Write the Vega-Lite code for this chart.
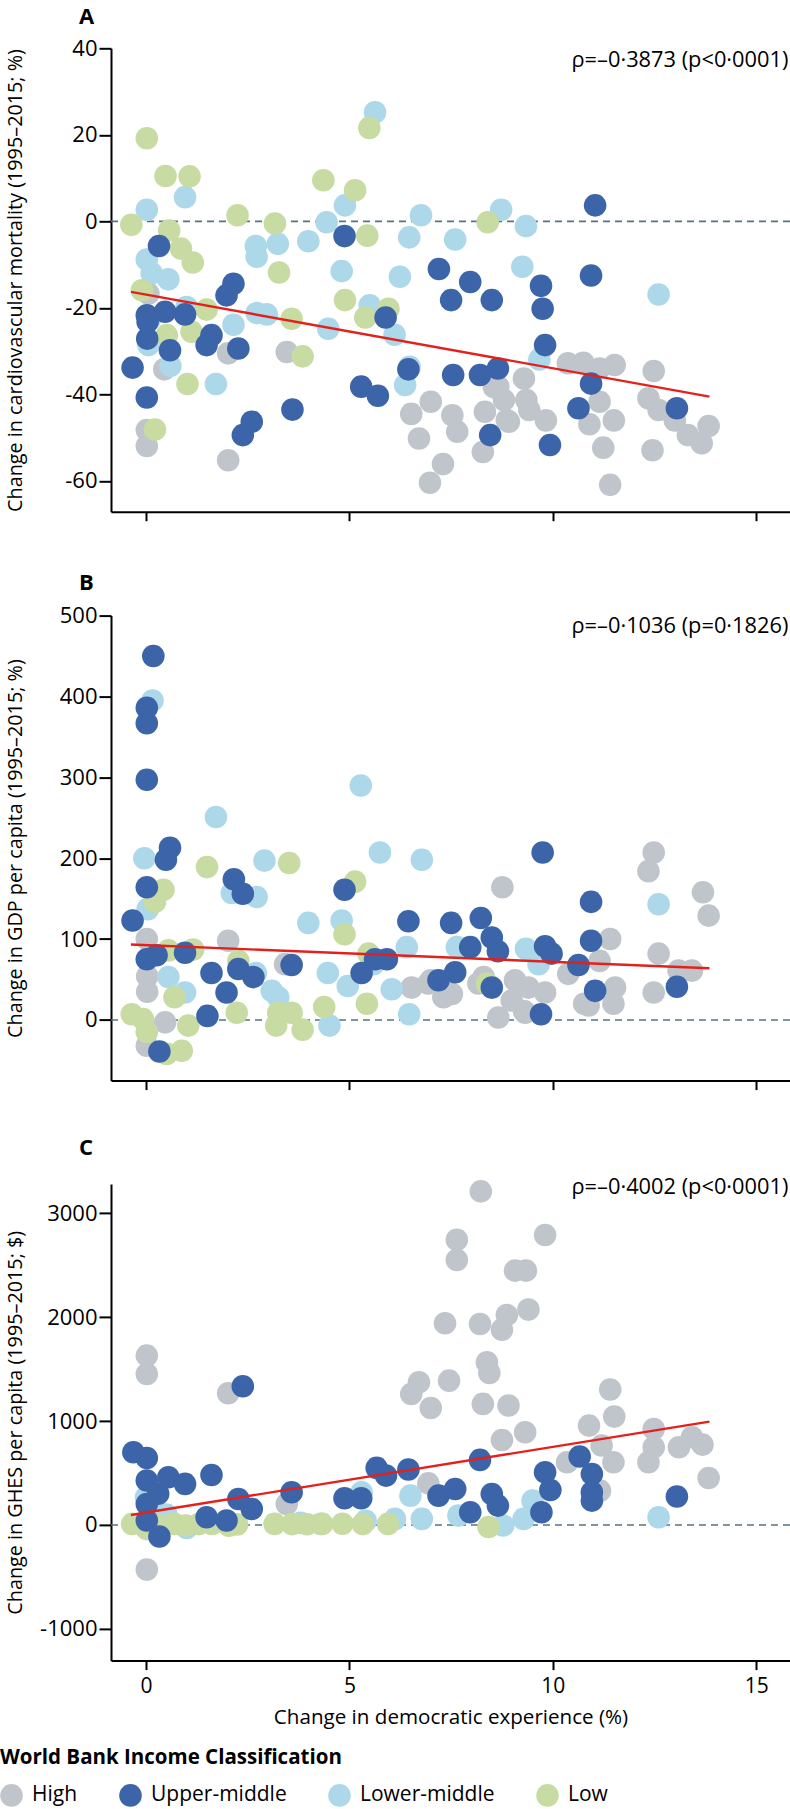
{
  "$schema": "https://vega.github.io/schema/vega-lite/v6.json",
  "autosize": {"type": "none"},
  "padding": {"left": 111, "top": 48.3, "right": 679, "bottom": 1760.7},
  "config": {
    "font": "Open Sans",
    "view": {"stroke": null},
    "axis": {"domainColor": "#000", "domainWidth": 2, "tickColor": "#000", "tickWidth": 2, "labelColor": "#000", "labelFont": "Open Sans", "titleFont": "Open Sans", "titleColor": "#000", "titleFontWeight": "normal", "grid": false},
    "axisY": {"tickSize": 12, "labelPadding": 2, "labelFontSize": 22, "titleFontSize": 19.8, "titleX": -90, "titleBaseline": "alphabetic"},
    "axisX": {"tickSize": 9, "labelFontSize": 21, "labelPadding": 22.7, "labelBaseline": "alphabetic", "titleFontSize": 20.6, "titleY": 63, "titleBaseline": "alphabetic"},
    "title": {"anchor": "start", "frame": "group", "dx": -32, "fontSize": 22, "fontWeight": "bold", "font": "Open Sans", "color": "#000", "baseline": "alphabetic"}
  },
  "datasets": {
    "a": [
      {"exp":0.06,"v":-16.7,"inc":"High"},{"exp":2.02,"v":-30.5,"inc":"High"},{"exp":3.46,"v":-30.2,"inc":"High"},{"exp":0.45,"v":-34.2,"inc":"High"},{"exp":0.02,"v":-48.2,"inc":"High"},{"exp":0.02,"v":-51.9,"inc":"High"},{"exp":2.02,"v":-55.2,"inc":"High"},{"exp":6.52,"v":-44.5,"inc":"High"},{"exp":7.0,"v":-41.7,"inc":"High"},{"exp":6.71,"v":-50.2,"inc":"High"},{"exp":7.3,"v":-56.1,"inc":"High"},{"exp":6.98,"v":-60.4,"inc":"High"},{"exp":7.53,"v":-44.8,"inc":"High"},{"exp":7.65,"v":-48.6,"inc":"High"},{"exp":8.33,"v":-44,"inc":"High"},{"exp":8.28,"v":-53.3,"inc":"High"},{"exp":8.55,"v":-38.3,"inc":"High"},{"exp":8.8,"v":-41.3,"inc":"High"},{"exp":9.29,"v":-36.3,"inc":"High"},{"exp":9.35,"v":-41.3,"inc":"High"},{"exp":9.42,"v":-43.6,"inc":"High"},{"exp":9.83,"v":-46,"inc":"High"},{"exp":8.92,"v":-46.3,"inc":"High"},{"exp":10.37,"v":-32.8,"inc":"High"},{"exp":10.75,"v":-32.7,"inc":"High"},{"exp":11.15,"v":-34,"inc":"High"},{"exp":11.52,"v":-33.2,"inc":"High"},{"exp":11.15,"v":-41.7,"inc":"High"},{"exp":10.9,"v":-46.9,"inc":"High"},{"exp":11.24,"v":-52.3,"inc":"High"},{"exp":11.5,"v":-46,"inc":"High"},{"exp":11.41,"v":-60.9,"inc":"High"},{"exp":12.48,"v":-34.6,"inc":"High"},{"exp":12.35,"v":-40.9,"inc":"High"},{"exp":12.6,"v":-43.6,"inc":"High"},{"exp":12.45,"v":-52.9,"inc":"High"},{"exp":13.0,"v":-46,"inc":"High"},{"exp":13.32,"v":-49.4,"inc":"High"},{"exp":13.83,"v":-47.3,"inc":"High"},{"exp":13.66,"v":-51.3,"inc":"High"},{"exp":8.66,"v":-38.2,"inc":"High"},{"exp":8.87,"v":-45.9,"inc":"High"},
      {"exp":0.96,"v":5.6,"inc":"Lower-middle"},{"exp":0.02,"v":2.7,"inc":"Lower-middle"},{"exp":0.02,"v":-8.8,"inc":"Lower-middle"},{"exp":0.14,"v":-12,"inc":"Lower-middle"},{"exp":0.55,"v":-13.4,"inc":"Lower-middle"},{"exp":0.1,"v":-22.5,"inc":"Lower-middle"},{"exp":2.7,"v":-5.7,"inc":"Lower-middle"},{"exp":3.24,"v":-5.2,"inc":"Lower-middle"},{"exp":2.72,"v":-8.2,"inc":"Lower-middle"},{"exp":3.99,"v":-4.6,"inc":"Lower-middle"},{"exp":4.44,"v":-0.2,"inc":"Lower-middle"},{"exp":4.89,"v":3.7,"inc":"Lower-middle"},{"exp":4.81,"v":-11.5,"inc":"Lower-middle"},{"exp":5.63,"v":25.2,"inc":"Lower-middle"},{"exp":6.76,"v":1.4,"inc":"Lower-middle"},{"exp":6.47,"v":-3.7,"inc":"Lower-middle"},{"exp":6.24,"v":-12.8,"inc":"Lower-middle"},{"exp":7.6,"v":-4.2,"inc":"Lower-middle"},{"exp":5.5,"v":-19.4,"inc":"Lower-middle"},{"exp":6.11,"v":-26.2,"inc":"Lower-middle"},{"exp":4.48,"v":-24.8,"inc":"Lower-middle"},{"exp":2.72,"v":-21.2,"inc":"Lower-middle"},{"exp":2.97,"v":-21.5,"inc":"Lower-middle"},{"exp":1.0,"v":-19.8,"inc":"Lower-middle"},{"exp":2.15,"v":-23.9,"inc":"Lower-middle"},{"exp":0.06,"v":-28.6,"inc":"Lower-middle"},{"exp":0.6,"v":-33.4,"inc":"Lower-middle"},{"exp":1.72,"v":-37.6,"inc":"Lower-middle"},{"exp":6.37,"v":-37.8,"inc":"Lower-middle"},{"exp":6.48,"v":-33.6,"inc":"Lower-middle"},{"exp":8.73,"v":2.7,"inc":"Lower-middle"},{"exp":9.34,"v":-1.1,"inc":"Lower-middle"},{"exp":9.25,"v":-10.5,"inc":"Lower-middle"},{"exp":12.6,"v":-16.9,"inc":"Lower-middle"},{"exp":9.67,"v":-31.9,"inc":"Lower-middle"},
      {"exp":0.02,"v":19.2,"inc":"Low"},{"exp":0.48,"v":10.5,"inc":"Low"},{"exp":1.07,"v":10.4,"inc":"Low"},{"exp":-0.36,"v":-0.8,"inc":"Low"},{"exp":0.57,"v":-2.1,"inc":"Low"},{"exp":0.86,"v":-6.3,"inc":"Low"},{"exp":1.15,"v":-9.5,"inc":"Low"},{"exp":-0.1,"v":-15.9,"inc":"Low"},{"exp":2.25,"v":1.4,"inc":"Low"},{"exp":3.17,"v":-0.5,"inc":"Low"},{"exp":3.27,"v":-11.8,"inc":"Low"},{"exp":4.36,"v":9.5,"inc":"Low"},{"exp":5.14,"v":7.2,"inc":"Low"},{"exp":5.44,"v":-3.3,"inc":"Low"},{"exp":5.49,"v":21.6,"inc":"Low"},{"exp":4.89,"v":-18.2,"inc":"Low"},{"exp":5.39,"v":-22.2,"inc":"Low"},{"exp":5.96,"v":-20.2,"inc":"Low"},{"exp":3.58,"v":-22.5,"inc":"Low"},{"exp":1.49,"v":-20.4,"inc":"Low"},{"exp":1.12,"v":-25.5,"inc":"Low"},{"exp":0.51,"v":-26.3,"inc":"Low"},{"exp":3.85,"v":-31.2,"inc":"Low"},{"exp":1.02,"v":-37.6,"inc":"Low"},{"exp":0.22,"v":-48.1,"inc":"Low"},{"exp":8.4,"v":-0.2,"inc":"Low"},
      {"exp":0.32,"v":-5.7,"inc":"Upper-middle"},{"exp":2.15,"v":-14.4,"inc":"Upper-middle"},{"exp":1.98,"v":-17.1,"inc":"Upper-middle"},{"exp":4.88,"v":-3.4,"inc":"Upper-middle"},{"exp":7.2,"v":-11.0,"inc":"Upper-middle"},{"exp":5.89,"v":-22.2,"inc":"Upper-middle"},{"exp":0.02,"v":-21.7,"inc":"Upper-middle"},{"exp":0.04,"v":-23.2,"inc":"Upper-middle"},{"exp":0.47,"v":-20.9,"inc":"Upper-middle"},{"exp":0.96,"v":-21.5,"inc":"Upper-middle"},{"exp":0.03,"v":-27.1,"inc":"Upper-middle"},{"exp":0.59,"v":-29.8,"inc":"Upper-middle"},{"exp":1.61,"v":-26.3,"inc":"Upper-middle"},{"exp":1.49,"v":-28.6,"inc":"Upper-middle"},{"exp":2.27,"v":-29.4,"inc":"Upper-middle"},{"exp":-0.33,"v":-33.8,"inc":"Upper-middle"},{"exp":0.02,"v":-40.7,"inc":"Upper-middle"},{"exp":2.6,"v":-46.3,"inc":"Upper-middle"},{"exp":2.38,"v":-49.4,"inc":"Upper-middle"},{"exp":3.6,"v":-43.5,"inc":"Upper-middle"},{"exp":5.29,"v":-38.2,"inc":"Upper-middle"},{"exp":5.7,"v":-40.3,"inc":"Upper-middle"},{"exp":6.45,"v":-34.2,"inc":"Upper-middle"},{"exp":7.5,"v":-18.2,"inc":"Upper-middle"},{"exp":7.55,"v":-35.5,"inc":"Upper-middle"},{"exp":7.97,"v":-14,"inc":"Upper-middle"},{"exp":8.5,"v":-18.2,"inc":"Upper-middle"},{"exp":9.71,"v":-14.9,"inc":"Upper-middle"},{"exp":9.75,"v":-20.2,"inc":"Upper-middle"},{"exp":10.94,"v":-12.5,"inc":"Upper-middle"},{"exp":11.04,"v":3.7,"inc":"Upper-middle"},{"exp":9.81,"v":-28.6,"inc":"Upper-middle"},{"exp":8.21,"v":-35.5,"inc":"Upper-middle"},{"exp":8.65,"v":-34,"inc":"Upper-middle"},{"exp":10.94,"v":-37.5,"inc":"Upper-middle"},{"exp":13.05,"v":-43.2,"inc":"Upper-middle"},{"exp":10.63,"v":-43.2,"inc":"Upper-middle"},{"exp":9.93,"v":-51.7,"inc":"Upper-middle"},{"exp":8.46,"v":-49.4,"inc":"Upper-middle"}
    ],
    "b": [
      {"exp":0.02,"v":100,"inc":"High"},{"exp":2.02,"v":98,"inc":"High"},{"exp":0.03,"v":54,"inc":"High"},{"exp":0.03,"v":35,"inc":"High"},{"exp":3.42,"v":69,"inc":"High"},{"exp":0.47,"v":-3,"inc":"High"},{"exp":0.02,"v":-32,"inc":"High"},{"exp":6.53,"v":40,"inc":"High"},{"exp":6.94,"v":45,"inc":"High"},{"exp":7.31,"v":28,"inc":"High"},{"exp":8.76,"v":164,"inc":"High"},{"exp":12.48,"v":207,"inc":"High"},{"exp":12.35,"v":184,"inc":"High"},{"exp":13.69,"v":158,"inc":"High"},{"exp":13.83,"v":129,"inc":"High"},{"exp":11.41,"v":100,"inc":"High"},{"exp":11.15,"v":73,"inc":"High"},{"exp":10.38,"v":57,"inc":"High"},{"exp":12.6,"v":82,"inc":"High"},{"exp":13.09,"v":61,"inc":"High"},{"exp":13.42,"v":61,"inc":"High"},{"exp":12.48,"v":34,"inc":"High"},{"exp":11.53,"v":40,"inc":"High"},{"exp":11.49,"v":20,"inc":"High"},{"exp":10.88,"v":18,"inc":"High"},{"exp":8.17,"v":45,"inc":"High"},{"exp":9.07,"v":49,"inc":"High"},{"exp":9.4,"v":40,"inc":"High"},{"exp":9.81,"v":34,"inc":"High"},{"exp":8.66,"v":3,"inc":"High"},{"exp":9.32,"v":9,"inc":"High"},{"exp":8.99,"v":24,"inc":"High"},{"exp":7.52,"v":32,"inc":"High"},{"exp":10.77,"v":20,"inc":"High"},{"exp":8.3,"v":53,"inc":"High"},{"exp":9.29,"v":11,"inc":"High"},{"exp":7.0,"v":49,"inc":"High"},
      {"exp":0.16,"v":395,"inc":"Lower-middle"},{"exp":1.72,"v":251,"inc":"Lower-middle"},{"exp":5.28,"v":290,"inc":"Lower-middle"},{"exp":-0.04,"v":200,"inc":"Lower-middle"},{"exp":2.91,"v":197,"inc":"Lower-middle"},{"exp":2.11,"v":157,"inc":"Lower-middle"},{"exp":2.72,"v":152,"inc":"Lower-middle"},{"exp":0.04,"v":137,"inc":"Lower-middle"},{"exp":5.75,"v":207,"inc":"Lower-middle"},{"exp":6.78,"v":198,"inc":"Lower-middle"},{"exp":3.99,"v":120,"inc":"Lower-middle"},{"exp":4.81,"v":123,"inc":"Lower-middle"},{"exp":0.55,"v":53,"inc":"Lower-middle"},{"exp":0.96,"v":34,"inc":"Lower-middle"},{"exp":3.09,"v":36,"inc":"Lower-middle"},{"exp":3.25,"v":28,"inc":"Lower-middle"},{"exp":4.51,"v":-7,"inc":"Lower-middle"},{"exp":6.47,"v":7,"inc":"Lower-middle"},{"exp":4.47,"v":58,"inc":"Lower-middle"},{"exp":4.96,"v":42,"inc":"Lower-middle"},{"exp":5.59,"v":69,"inc":"Lower-middle"},{"exp":6.04,"v":38,"inc":"Lower-middle"},{"exp":6.41,"v":90,"inc":"Lower-middle"},{"exp":7.64,"v":90,"inc":"Lower-middle"},{"exp":9.34,"v":88,"inc":"Lower-middle"},{"exp":9.65,"v":69,"inc":"Lower-middle"},{"exp":12.6,"v":143,"inc":"Lower-middle"},{"exp":2.7,"v":58,"inc":"Lower-middle"},
      {"exp":1.5,"v":189,"inc":"Low"},{"exp":3.52,"v":194,"inc":"Low"},{"exp":0.43,"v":161,"inc":"Low"},{"exp":0.22,"v":146,"inc":"Low"},{"exp":5.14,"v":171,"inc":"Low"},{"exp":4.88,"v":106,"inc":"Low"},{"exp":1.16,"v":87,"inc":"Low"},{"exp":0.55,"v":86,"inc":"Low"},{"exp":0.7,"v":28,"inc":"Low"},{"exp":2.27,"v":73,"inc":"Low"},{"exp":2.23,"v":9,"inc":"Low"},{"exp":-0.35,"v":7,"inc":"Low"},{"exp":-0.07,"v":1,"inc":"Low"},{"exp":1.04,"v":-7,"inc":"Low"},{"exp":0.02,"v":-15,"inc":"Low"},{"exp":0.88,"v":-38,"inc":"Low"},{"exp":0.51,"v":-42,"inc":"Low"},{"exp":3.25,"v":9,"inc":"Low"},{"exp":3.58,"v":9,"inc":"Low"},{"exp":3.2,"v":-7,"inc":"Low"},{"exp":3.85,"v":-12,"inc":"Low"},{"exp":4.38,"v":16,"inc":"Low"},{"exp":5.43,"v":20,"inc":"Low"},{"exp":5.47,"v":82,"inc":"Low"},{"exp":8.38,"v":45,"inc":"Low"},
      {"exp":0.18,"v":450,"inc":"Upper-middle"},{"exp":0.02,"v":386,"inc":"Upper-middle"},{"exp":0.02,"v":367,"inc":"Upper-middle"},{"exp":0.02,"v":297,"inc":"Upper-middle"},{"exp":0.59,"v":213,"inc":"Upper-middle"},{"exp":0.49,"v":198,"inc":"Upper-middle"},{"exp":2.16,"v":174,"inc":"Upper-middle"},{"exp":2.38,"v":156,"inc":"Upper-middle"},{"exp":0.02,"v":164,"inc":"Upper-middle"},{"exp":-0.33,"v":123,"inc":"Upper-middle"},{"exp":4.88,"v":161,"inc":"Upper-middle"},{"exp":6.45,"v":122,"inc":"Upper-middle"},{"exp":7.5,"v":120,"inc":"Upper-middle"},{"exp":0.96,"v":83,"inc":"Upper-middle"},{"exp":0.26,"v":80,"inc":"Upper-middle"},{"exp":0.02,"v":75,"inc":"Upper-middle"},{"exp":1.61,"v":58,"inc":"Upper-middle"},{"exp":1.98,"v":34,"inc":"Upper-middle"},{"exp":2.27,"v":63,"inc":"Upper-middle"},{"exp":2.64,"v":53,"inc":"Upper-middle"},{"exp":3.58,"v":68,"inc":"Upper-middle"},{"exp":1.51,"v":5,"inc":"Upper-middle"},{"exp":0.33,"v":-39,"inc":"Upper-middle"},{"exp":5.3,"v":58,"inc":"Upper-middle"},{"exp":5.63,"v":75,"inc":"Upper-middle"},{"exp":5.92,"v":75,"inc":"Upper-middle"},{"exp":7.19,"v":49,"inc":"Upper-middle"},{"exp":9.75,"v":207,"inc":"Upper-middle"},{"exp":10.94,"v":146,"inc":"Upper-middle"},{"exp":8.23,"v":126,"inc":"Upper-middle"},{"exp":8.5,"v":102,"inc":"Upper-middle"},{"exp":7.97,"v":90,"inc":"Upper-middle"},{"exp":8.65,"v":85,"inc":"Upper-middle"},{"exp":9.81,"v":91,"inc":"Upper-middle"},{"exp":9.97,"v":82,"inc":"Upper-middle"},{"exp":10.94,"v":98,"inc":"Upper-middle"},{"exp":10.63,"v":68,"inc":"Upper-middle"},{"exp":7.6,"v":59,"inc":"Upper-middle"},{"exp":13.05,"v":41,"inc":"Upper-middle"},{"exp":11.04,"v":36,"inc":"Upper-middle"},{"exp":8.5,"v":40,"inc":"Upper-middle"},{"exp":9.71,"v":7,"inc":"Upper-middle"}
    ],
    "c": [
      {"exp":0.02,"v":1630,"inc":"High"},{"exp":0.02,"v":1453,"inc":"High"},{"exp":2.02,"v":1267,"inc":"High"},{"exp":0.02,"v":-430,"inc":"High"},{"exp":3.46,"v":202,"inc":"High"},{"exp":6.94,"v":400,"inc":"High"},{"exp":6.52,"v":1261,"inc":"High"},{"exp":6.71,"v":1373,"inc":"High"},{"exp":7.0,"v":1126,"inc":"High"},{"exp":7.35,"v":1941,"inc":"High"},{"exp":7.64,"v":2746,"inc":"High"},{"exp":7.64,"v":2551,"inc":"High"},{"exp":7.45,"v":1389,"inc":"High"},{"exp":8.23,"v":3211,"inc":"High"},{"exp":9.81,"v":2791,"inc":"High"},{"exp":9.07,"v":2448,"inc":"High"},{"exp":9.34,"v":2448,"inc":"High"},{"exp":8.21,"v":1935,"inc":"High"},{"exp":8.75,"v":1880,"inc":"High"},{"exp":8.87,"v":2021,"inc":"High"},{"exp":9.4,"v":2073,"inc":"High"},{"exp":8.38,"v":1566,"inc":"High"},{"exp":8.44,"v":1463,"inc":"High"},{"exp":8.28,"v":1165,"inc":"High"},{"exp":8.91,"v":1149,"inc":"High"},{"exp":11.41,"v":1303,"inc":"High"},{"exp":11.51,"v":1043,"inc":"High"},{"exp":10.89,"v":956,"inc":"High"},{"exp":9.32,"v":892,"inc":"High"},{"exp":8.75,"v":818,"inc":"High"},{"exp":12.48,"v":924,"inc":"High"},{"exp":12.48,"v":748,"inc":"High"},{"exp":13.1,"v":748,"inc":"High"},{"exp":13.42,"v":844,"inc":"High"},{"exp":13.68,"v":773,"inc":"High"},{"exp":12.35,"v":603,"inc":"High"},{"exp":13.83,"v":452,"inc":"High"},{"exp":11.49,"v":603,"inc":"High"},{"exp":11.2,"v":764,"inc":"High"},{"exp":10.35,"v":603,"inc":"High"},{"exp":11.16,"v":330,"inc":"High"},
      {"exp":0.0,"v":266,"inc":"Lower-middle"},{"exp":6.5,"v":282,"inc":"Lower-middle"},{"exp":5.3,"v":314,"inc":"Lower-middle"},{"exp":6.78,"v":58,"inc":"Lower-middle"},{"exp":6.12,"v":58,"inc":"Lower-middle"},{"exp":7.68,"v":90,"inc":"Lower-middle"},{"exp":9.5,"v":234,"inc":"Lower-middle"},{"exp":9.28,"v":58,"inc":"Lower-middle"},{"exp":8.78,"v":-6,"inc":"Lower-middle"},{"exp":12.6,"v":74,"inc":"Lower-middle"},{"exp":2.0,"v":10,"inc":"Lower-middle"},{"exp":3.8,"v":20,"inc":"Lower-middle"},{"exp":4.3,"v":10,"inc":"Lower-middle"},{"exp":5.4,"v":40,"inc":"Lower-middle"},{"exp":1.0,"v":-30,"inc":"Lower-middle"},{"exp":0.5,"v":100,"inc":"Lower-middle"},{"exp":0.1,"v":150,"inc":"Lower-middle"},
      {"exp":-0.34,"v":10,"inc":"Low"},{"exp":-0.02,"v":0,"inc":"Low"},{"exp":0.25,"v":5,"inc":"Low"},{"exp":0.69,"v":10,"inc":"Low"},{"exp":0.98,"v":-5,"inc":"Low"},{"exp":1.3,"v":8,"inc":"Low"},{"exp":1.62,"v":10,"inc":"Low"},{"exp":2.04,"v":-8,"inc":"Low"},{"exp":2.24,"v":5,"inc":"Low"},{"exp":3.16,"v":10,"inc":"Low"},{"exp":3.59,"v":8,"inc":"Low"},{"exp":3.96,"v":6,"inc":"Low"},{"exp":4.33,"v":10,"inc":"Low"},{"exp":4.83,"v":12,"inc":"Low"},{"exp":5.33,"v":8,"inc":"Low"},{"exp":5.95,"v":10,"inc":"Low"},{"exp":8.42,"v":-20,"inc":"Low"},{"exp":0.02,"v":-40,"inc":"Low"},{"exp":0.3,"v":-30,"inc":"Low"},
      {"exp":-0.31,"v":699,"inc":"Upper-middle"},{"exp":0.02,"v":645,"inc":"Upper-middle"},{"exp":0.02,"v":427,"inc":"Upper-middle"},{"exp":0.55,"v":459,"inc":"Upper-middle"},{"exp":0.96,"v":395,"inc":"Upper-middle"},{"exp":1.61,"v":481,"inc":"Upper-middle"},{"exp":0.02,"v":202,"inc":"Upper-middle"},{"exp":0.02,"v":42,"inc":"Upper-middle"},{"exp":0.33,"v":-112,"inc":"Upper-middle"},{"exp":1.49,"v":74,"inc":"Upper-middle"},{"exp":1.98,"v":42,"inc":"Upper-middle"},{"exp":2.27,"v":250,"inc":"Upper-middle"},{"exp":2.6,"v":154,"inc":"Upper-middle"},{"exp":3.58,"v":314,"inc":"Upper-middle"},{"exp":4.88,"v":257,"inc":"Upper-middle"},{"exp":5.29,"v":257,"inc":"Upper-middle"},{"exp":5.67,"v":549,"inc":"Upper-middle"},{"exp":5.9,"v":475,"inc":"Upper-middle"},{"exp":6.45,"v":533,"inc":"Upper-middle"},{"exp":7.19,"v":282,"inc":"Upper-middle"},{"exp":2.38,"v":1335,"inc":"Upper-middle"},{"exp":8.21,"v":626,"inc":"Upper-middle"},{"exp":10.66,"v":658,"inc":"Upper-middle"},{"exp":10.96,"v":491,"inc":"Upper-middle"},{"exp":9.81,"v":507,"inc":"Upper-middle"},{"exp":9.94,"v":337,"inc":"Upper-middle"},{"exp":10.96,"v":314,"inc":"Upper-middle"},{"exp":10.96,"v":234,"inc":"Upper-middle"},{"exp":8.5,"v":298,"inc":"Upper-middle"},{"exp":8.65,"v":186,"inc":"Upper-middle"},{"exp":7.6,"v":346,"inc":"Upper-middle"},{"exp":7.97,"v":122,"inc":"Upper-middle"},{"exp":9.72,"v":122,"inc":"Upper-middle"},{"exp":13.05,"v":273,"inc":"Upper-middle"},{"exp":0.3,"v":300,"inc":"Upper-middle"}
    ],
    "fitA": [{"exp":-0.37,"v":-16.3},{"exp":13.85,"v":-40.5}],
    "fitB": [{"exp":-0.37,"v":93.3},{"exp":13.85,"v":63.9}],
    "fitC": [{"exp":-0.37,"v":96},{"exp":13.85,"v":995}]
  },
  "vconcat": [
    {
      "width": 679,
      "height": 463.4,
      "title": {"text": "A", "offset": 8},
      "layer": [
        {"data": {"values": [{}]}, "mark": {"type": "rule", "strokeDash": [7, 5], "color": "#58737f", "strokeWidth": 1.6}, "encoding": {"y": {"datum": 0}}},
        {
          "data": {"name": "a"},
          "mark": {"type": "circle", "size": 510, "opacity": 1},
          "encoding": {
            "x": {"field": "exp", "type": "quantitative", "scale": {"domain": [-0.86, 15.83], "nice": false, "zero": false}, "axis": {"values": [0, 5, 10, 15], "labels": false, "title": null}},
            "y": {"field": "v", "type": "quantitative", "scale": {"domain": [-67.1, 40], "nice": false, "zero": false}, "axis": {"values": [-60, -40, -20, 0, 20, 40], "title": "Change in cardiovascular mortality (1995–2015; %)", "labelExpr": "datum.value < 0 ? '-' + format(-datum.value, 'd') : format(datum.value, 'd')"}},
            "color": {"field": "inc", "type": "nominal", "scale": {"domain": ["High", "Upper-middle", "Lower-middle", "Low"], "range": ["#bfc5cb", "#3c64a8", "#acd8e9", "#c7dba3"]},
              "legend": {"title": "World Bank Income Classification", "orient": "none", "legendX": -111, "legendY": 1700, "direction": "horizontal", "symbolType": "circle", "symbolSize": 510, "symbolStrokeWidth": 0, "symbolOpacity": 1, "labelFontSize": 21, "labelFont": "Open Sans", "titleFont": "Open Sans", "titleFontSize": 20.5, "titleFontWeight": "bold", "columnPadding": 41, "labelOffset": 9, "titlePadding": 15, "labelColor": "#000", "titleColor": "#000", "padding": 0, "titleLimit": 800, "labelLimit": 300}}
          }
        },
        {"data": {"name": "fitA"}, "mark": {"type": "line", "color": "#e3211c", "strokeWidth": 2.4}, "encoding": {"x": {"field": "exp", "type": "quantitative"}, "y": {"field": "v", "type": "quantitative"}}},
        {"data": {"values": [{}]}, "mark": {"type": "text", "text": "ρ=–0·3873 (p<0·0001)", "align": "right", "baseline": "alphabetic", "fontSize": 21.8, "font": "Open Sans", "color": "#000"}, "encoding": {"x": {"datum": 15.79}, "y": {"datum": 35.6}}}
      ]
    },
    {
      "width": 679,
      "height": 465,
      "title": {"text": "B", "offset": 9.6},
      "layer": [
        {"data": {"values": [{}]}, "mark": {"type": "rule", "strokeDash": [7, 5], "color": "#58737f", "strokeWidth": 1.6}, "encoding": {"y": {"datum": 0}}},
        {
          "data": {"name": "b"},
          "mark": {"type": "circle", "size": 510, "opacity": 1},
          "encoding": {
            "x": {"field": "exp", "type": "quantitative", "scale": {"domain": [-0.86, 15.83], "nice": false, "zero": false}, "axis": {"values": [0, 5, 10, 15], "labels": false, "title": null}},
            "y": {"field": "v", "type": "quantitative", "scale": {"domain": [-75, 500], "nice": false, "zero": false}, "axis": {"values": [0, 100, 200, 300, 400, 500], "title": "Change in GDP per capita (1995–2015; %)", "labelExpr": "datum.value < 0 ? '-' + format(-datum.value, 'd') : format(datum.value, 'd')"}},
            "color": {"field": "inc", "type": "nominal", "scale": {"domain": ["High", "Upper-middle", "Lower-middle", "Low"], "range": ["#bfc5cb", "#3c64a8", "#acd8e9", "#c7dba3"]}}
          }
        },
        {"data": {"name": "fitB"}, "mark": {"type": "line", "color": "#e3211c", "strokeWidth": 2.4}, "encoding": {"x": {"field": "exp", "type": "quantitative"}, "y": {"field": "v", "type": "quantitative"}}},
        {"data": {"values": [{}]}, "mark": {"type": "text", "text": "ρ=–0·1036 (p=0·1826)", "align": "right", "baseline": "alphabetic", "fontSize": 21.8, "font": "Open Sans", "color": "#000"}, "encoding": {"x": {"datum": 15.79}, "y": {"datum": 479}}}
      ]
    },
    {
      "width": 679,
      "height": 476.7,
      "title": {"text": "C", "offset": 17},
      "layer": [
        {"data": {"values": [{}]}, "mark": {"type": "rule", "strokeDash": [7, 5], "color": "#58737f", "strokeWidth": 1.6}, "encoding": {"y": {"datum": 0}}},
        {
          "data": {"name": "c"},
          "mark": {"type": "circle", "size": 510, "opacity": 1},
          "encoding": {
            "x": {"field": "exp", "type": "quantitative", "scale": {"domain": [-0.86, 15.83], "nice": false, "zero": false}, "axis": {"values": [0, 5, 10, 15], "title": "Change in democratic experience (%)"}},
            "y": {"field": "v", "type": "quantitative", "scale": {"domain": [-1306, 3283], "nice": false, "zero": false}, "axis": {"values": [-1000, 0, 1000, 2000, 3000], "title": "Change in GHES per capita (1995–2015; $)", "labelExpr": "datum.value < 0 ? '-' + format(-datum.value, 'd') : format(datum.value, 'd')"}},
            "color": {"field": "inc", "type": "nominal", "scale": {"domain": ["High", "Upper-middle", "Lower-middle", "Low"], "range": ["#bfc5cb", "#3c64a8", "#acd8e9", "#c7dba3"]}}
          }
        },
        {"data": {"name": "fitC"}, "mark": {"type": "line", "color": "#e3211c", "strokeWidth": 2.4}, "encoding": {"x": {"field": "exp", "type": "quantitative"}, "y": {"field": "v", "type": "quantitative"}}},
        {"data": {"values": [{}]}, "mark": {"type": "text", "text": "ρ=–0·4002 (p<0·0001)", "align": "right", "baseline": "alphabetic", "fontSize": 21.8, "font": "Open Sans", "color": "#000"}, "encoding": {"x": {"datum": 15.79}, "y": {"datum": 3186}}}
      ]
    }
  ],
  "spacing": 103.3,
  "bounds": "flush"
}
